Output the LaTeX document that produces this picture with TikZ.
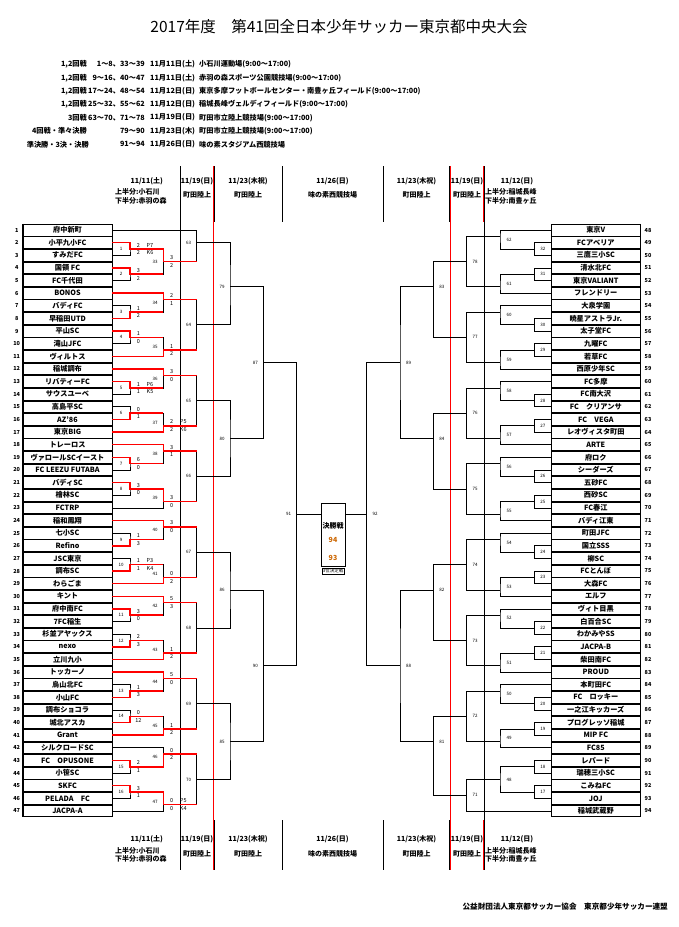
\documentclass[tikz,border=0pt]{standalone}
\usepackage{fontspec}
\setmainfont{Noto Sans CJK JP}
\usetikzlibrary{calc}
\newcommand\yk[1]{230+#1*6.315}
\begin{document}
\begin{tikzpicture}[x=1pt,y=-1pt,
 every node/.style={inner sep=0pt},
 team/.style={draw,line width=0.8pt,minimum width=89pt,minimum height=11.8pt,font=\fontsize{7.2}{8}\selectfont\bfseries},
 rownum/.style={font=\fontsize{5.5}{6}\selectfont\bfseries},
 lab/.style={font=\fontsize{4.5}{5}\selectfont},
 sc/.style={font=\fontsize{5.5}{6}\selectfont},
 br/.style={line width=0.7pt},
 win/.style={draw=red,line width=1.5pt},
 hd/.style={font=\fontsize{7}{8}\selectfont\bfseries},
 sched/.style={font=\fontsize{7.2}{8}\selectfont\bfseries},
 colline/.style={line width=0.8pt},
 redline/.style={draw=red,line width=0.5pt}]
\fill[white] (0,0) rectangle (678,927);
\useasboundingbox (0,0) rectangle (678,927);

% title
\node[font=\fontsize{15.5}{17}\selectfont] (title) at (339,26.5) {2017年度　第41回全日本少年サッカー東京都中央大会};

% schedule
\node[sched,anchor=east] (sa1) at (87,64.5) {1,2回戦};
\node[sched,anchor=east] (sb1) at (145,64.5) {1～8、33～39};
\node[sched,anchor=west] (sc1) at (150,64.5) {11月11日(土)};
\node[sched,anchor=west] (sd1) at (199,64.5) {小石川運動場(9:00～17:00)};
\node[sched,anchor=east] (sa2) at (87,77.8) {1,2回戦};
\node[sched,anchor=east] (sb2) at (145,77.8) {9～16、40～47};
\node[sched,anchor=west] (sc2) at (150,77.8) {11月11日(土)};
\node[sched,anchor=west] (sd2) at (199,77.8) {赤羽の森スポーツ公園競技場(9:00～17:00)};
\node[sched,anchor=east] (sa3) at (87,91.1) {1,2回戦};
\node[sched,anchor=east] (sb3) at (145,91.1) {17～24、48～54};
\node[sched,anchor=west] (sc3) at (150,91.1) {11月12日(日)};
\node[sched,anchor=west] (sd3) at (199,91.1) {東京多摩フットボールセンター・南豊ヶ丘フィールド(9:00～17:00)};
\node[sched,anchor=east] (sa4) at (87,104.4) {1,2回戦};
\node[sched,anchor=east] (sb4) at (145,104.4) {25～32、55～62};
\node[sched,anchor=west] (sc4) at (150,104.4) {11月12日(日)};
\node[sched,anchor=west] (sd4) at (199,104.4) {稲城長峰ヴェルディフィールド(9:00～17:00)};
\node[sched,anchor=east] (sa5) at (87,117.7) {3回戦};
\node[sched,anchor=east] (sb5) at (145,117.7) {63～70、71～78};
\node[sched,anchor=west] (sc5) at (150,117.7) {11月19日(日)};
\node[sched,anchor=west] (sd5) at (199,117.7) {町田市立陸上競技場(9:00～17:00)};
\node[sched,anchor=east] (sa6) at (87,131) {4回戦・準々決勝};
\node[sched,anchor=east] (sb6) at (145,131) {79～90};
\node[sched,anchor=west] (sc6) at (150,131) {11月23日(木)};
\node[sched,anchor=west] (sd6) at (199,131) {町田市立陸上競技場(9:00～17:00)};
\node[sched,anchor=east] (sa7) at (89,144.3) {準決勝・3決・決勝};
\node[sched,anchor=east] (sb7) at (145,144.3) {91～94};
\node[sched,anchor=west] (sc7) at (150,144.3) {11月26日(日)};
\node[sched,anchor=west] (sd7) at (199,144.3) {味の素スタジアム西競技場};

% column lines
\foreach \x in {180,484} \draw[colline] (\x,166) -- (\x,870);
\foreach \x in {213.7,450.3} \draw[redline] (\x,166) -- (\x,870);
\foreach \x in {214.8,282,383,449.2} {\draw[colline] (\x,166) -- (\x,222); \draw[colline] (\x,820) -- (\x,870);}
\draw[redline] (483,166) -- (483,222); \draw[redline] (483,820) -- (483,870);

% headers
\foreach \yy/\s/\yu/\yl/\ym in {181.7/t/192.3/201.3/195, 839/b/850.7/859.3/854} {
 \node[hd] (d1\s) at (146.7,\yy) {11/11(土)};
 \node[hd,anchor=west] (u1\s) at (115,\yu) {上半分:小石川};
 \node[hd,anchor=west] (l1\s) at (115,\yl) {下半分:赤羽の森};
 \node[hd] (d2\s) at (197,\yy) {11/19(日)};
 \node[hd] (v2\s) at (197,\ym) {町田陸上};
 \node[hd] (d3\s) at (248,\yy) {11/23(木祝)};
 \node[hd] (v3\s) at (248,\ym) {町田陸上};
 \node[hd] (d4\s) at (332.5,\yy) {11/26(日)};
 \node[hd] (v4\s) at (332.5,\ym) {味の素西競技場};
 \node[hd] (d5\s) at (416.5,\yy) {11/23(木祝)};
 \node[hd] (v5\s) at (416.5,\ym) {町田陸上};
 \node[hd] (d6\s) at (467,\yy) {11/19(日)};
 \node[hd] (v6\s) at (467,\ym) {町田陸上};
 \node[hd] (d7\s) at (517,\yy) {11/12(日)};
 \node[hd,anchor=west] (u7\s) at (485,\yu) {上半分:稲城長峰};
 \node[hd,anchor=west] (l7\s) at (485,\yl) {下半分:南豊ヶ丘};
}

% teams left
\foreach \i/\n in {1/府中新町,2/小平九小FC,3/すみだFC,4/国領 FC,5/FC千代田,6/BONOS,7/バディFC,8/早稲田UTD,9/平山SC,10/滝山JFC,11/ヴィルトス,12/稲城調布,13/リバティーFC,14/サウスユーベ,15/高島平SC,16/AZ’86,17/東京BIG,18/トレーロス,19/ヴァロールSCイースト,20/FC LEEZU FUTABA,21/バディSC,22/檜林SC,23/FCTRP,24/稲和鳳翔,25/七小SC,26/Refino,27/JSC東京,28/調布SC,29/わらごま,30/キント,31/府中南FC,32/7FC稲生,33/杉並アヤックス,34/nexo,35/立川九小,36/トッカーノ,37/烏山北FC,38/小山FC,39/調布ショコラ,40/城北アスカ,41/Grant,42/シルクロードSC,43/FC　OPUSONE,44/小笹SC,45/SKFC,46/PELADA　FC,47/JACPA-A} {
 \node[team] (t\i) at (67.5,{230+(\i-1)*12.63}) {\n};
 \node[rownum] (n\i) at (16.7,{230+(\i-1)*12.63}) {\i};
}
\draw[line width=1.6pt] (23,223.9) -- (23,817.1);

% teams right
\foreach \i/\n in {48/東京V,49/FCアベリア,50/三鷹三小SC,51/清水北FC,52/東京VALIANT,53/フレンドリー,54/大泉学園,55/暁星アストラJr.,56/太子堂FC,57/九曜FC,58/若草FC,59/西原少年SC,60/FC多摩,61/FC南大沢,62/FC　クリアンサ,63/FC　VEGA,64/レオヴィスタ町田,65/ARTE,66/府ロク,67/シーダーズ,68/五砂FC,69/西砂SC,70/FC春江,71/バディ江東,72/町田JFC,73/国立SSS,74/柳SC,75/FCとんぼ,76/大森FC,77/エルフ,78/ヴィト目黒,79/白百合SC,80/わかみやSS,81/JACPA-B,82/柴田南FC,83/PROUD,84/本町田FC,85/FC　ロッキー,86/一之江キッカーズ,87/プログレッソ稲城,88/MIP FC,89/FC85,90/レパード,91/瑞穂三小SC,92/こみねFC,93/JOJ,94/稲城武蔵野} {
 \node[team] (t\i) at (595.8,{230+(\i-48)*12.63}) {\n};
 \node[rownum] (n\i) at (648,{230+(\i-48)*12.63}) {\i};
}
\draw[line width=1.6pt] (640.3,223.9) -- (640.3,817.1);

% match points left
\foreach \m/\k in {1/3,2/7,3/13,4/17,5/25,6/29,7/37,8/41,9/49,10/53,11/61,12/65,13/73,14/77,15/85,16/89}
 \coordinate (m\m) at (130,{\yk{\k}});
\foreach \m/\k in {33/5,34/11,35/19,36/23,37/31,38/35,39/43,40/47,41/55,42/59,43/67,44/71,45/79,46/83,47/91}
 \coordinate (m\m) at (163.3,{\yk{\k}});
\foreach \m/\k in {63/2,64/15,65/27,66/39,67/51,68/63,69/75,70/87}
 \coordinate (m\m) at (196.7,{\yk{\k}});
\foreach \m/\k in {79/9,80/33,86/57,85/81}
 \coordinate (m\m) at (230,{\yk{\k}});
\foreach \m/\k in {87/21,90/69}
 \coordinate (m\m) at (263.3,{\yk{\k}});
\coordinate (m91) at (296.7,{\yk{45}});
% match points right
\foreach \m/\k in {32/3,31/7,30/15,29/19,28/27,27/31,26/39,25/43,24/51,23/55,22/63,21/67,20/75,19/79,18/85,17/89}
 \coordinate (m\m) at (534.3,{\yk{\k}});
\foreach \m/\k in {62/1,61/9,60/13,59/21,58/25,57/33,56/37,55/45,54/49,53/57,52/61,51/69,50/73,49/81,48/87}
 \coordinate (m\m) at (500,{\yk{\k}});
\foreach \m/\k in {78/5,77/17,76/29,75/41,74/53,73/65,72/77,71/89.5}
 \coordinate (m\m) at (466.7,{\yk{\k}});
\foreach \m/\k in {83/9,84/33,82/57,81/81}
 \coordinate (m\m) at (433.3,{\yk{\k}});
\foreach \m/\k in {89/21,88/69}
 \coordinate (m\m) at (400,{\yk{\k}});
\coordinate (m92) at (366.7,{\yk{45}});

% brackets left
\foreach \m/\a/\b in {1/2/3,2/4/5,3/7/8,4/9/10,5/13/14,6/15/16,7/19/20,8/21/22,9/25/26,10/27/28,11/31/32,12/33/34,13/37/38,14/39/40,15/43/44,16/45/46}
 \draw[br] (t\a.east) -| (m\m) |- (t\b.east);
\foreach \m/\a/\b in {33/m1/m2,34/t6.east/m3,35/m4/t11.east,36/t12.east/m5,37/m6/t17.east,38/t18.east/m7,39/m8/t23.east,40/t24.east/m9,41/m10/t29.east,42/t30.east/m11,43/m12/t35.east,44/t36.east/m13,45/m14/t41.east,46/t42.east/m15,47/m16/t47.east,
 63/t1.east/m33,64/m34/m35,65/m36/m37,66/m38/m39,67/m40/m41,68/m42/m43,69/m44/m45,70/m46/m47,
 79/m63/m64,80/m65/m66,86/m67/m68,85/m69/m70,87/m79/m80,90/m86/m85,91/m87/m90}
 \draw[br] (\a) -| (m\m) |- (\b);
% brackets right
\foreach \m/\a/\b in {32/49/50,31/51/52,30/55/56,29/57/58,28/61/62,27/63/64,26/67/68,25/69/70,24/73/74,23/75/76,22/79/80,21/81/82,20/85/86,19/87/88,18/90/91,17/92/93}
 \draw[br] (t\a.west) -| (m\m) |- (t\b.west);
\foreach \m/\a/\b in {62/t48.west/m32,61/m31/t53.west,60/t54.west/m30,59/m29/t59.west,58/t60.west/m28,57/m27/t65.west,56/t66.west/m26,55/m25/t71.west,54/t72.west/m24,53/m23/t77.west,52/t78.west/m22,51/m21/t83.west,50/t84.west/m20,49/m19/t89.west,48/m18/m17,
 78/m62/m61,77/m60/m59,76/m58/m57,75/m56/m55,74/m54/m53,73/m52/m51,72/m50/m49,71/m48/t94.west,
 83/m78/m77,84/m76/m75,82/m74/m73,81/m72/m71,89/m83/m84,88/m82/m81,92/m89/m88}
 \draw[br] (\a) -| (m\m) |- (\b);

% winners (red)
\foreach \w/\m/\n in {t2.east/1/33,t4.east/2/33,t8.east/3/34,t9.east/4/35,t13.east/5/36,t16.east/6/37,t19.east/7/38,t21.east/8/39,t26.east/9/40,t28.east/10/41,t31.east/11/42,t34.east/12/43,t38.east/13/44,t40.east/14/45,t43.east/15/46,t45.east/16/47,
 m1/33/63,t6.east/34/64,t11.east/35/64,t12.east/36/65,t17.east/37/65,t18.east/38/66,m8/39/66,t24.east/40/67,t29.east/41/67,t30.east/42/68,t35.east/43/68,t36.east/44/69,t41.east/45/69,m15/46/70,m16/47/70}
 \draw[win] (\w) -| (m\m) -- (m\m -| m\n);

% scores
\foreach \m/\a/\b in {1/2/2,2/3/2,3/1/2,4/1/0,5/1/1,6/0/1,7/6/0,8/3/0,9/1/3,10/1/1,11/3/0,12/2/3,13/1/3,14/0/12,15/2/1,16/3/1,
 33/3/2,34/2/1,35/1/2,36/3/0,37/2/2,38/3/1,39/3/0,40/3/0,41/0/2,42/5/3,43/1/2,44/5/0,45/1/2,46/0/2,47/0/0} {
 \node[sc] (sa\m) at ($(m\m)+(8.4,-3.8)$) {\a};
 \node[sc] (sb\m) at ($(m\m)+(8.4,3.8)$) {\b};
}
\foreach \m/\a/\b in {1/7/6,5/6/5,10/3/4,37/5/6,47/5/4} {
 \node[sc] (pa\m) at ($(m\m)+(20,-3.8)$) {P\a};
 \node[sc] (pb\m) at ($(m\m)+(20,3.8)$) {K\b};
}

% match labels left
\foreach \m in {1,...,16} \node[lab] (l\m) at ($(m\m)+(-9,0)$) {\m};
\foreach \m/\k in {33/5,34/11.5,35/18.5,36/23.5,37/30.5,38/35.5,39/42.5,40/47.5,41/54.5,42/59.5,43/66.5,44/71.5,45/78.5,46/83.5,47/90.5}
 \node[lab] (l\m) at (155,{\yk{\k}}) {\m};
\foreach \m in {63,...,70,79,80,86,85,87,90,91} \node[lab] (l\m) at ($(m\m)+(-8,0)$) {\m};
% match labels right
\foreach \m in {17,...,32} \node[lab] (l\m) at ($(m\m)+(8.5,0)$) {\m};
\foreach \m/\k in {62/1.5,61/8.5,60/13.5,59/20.5,58/25.5,57/32.5,56/37.5,55/44.5,54/49.5,53/56.5,52/61.5,51/68.5,50/73.5,49/80.5,48/87}
 \node[lab] (l\m) at (509,{\yk{\k}}) {\m};
\foreach \m in {71,...,78,83,84,82,81,89,88,92} \node[lab] (l\m) at ($(m\m)+(8.5,0)$) {\m};

% final
\coordinate (fl) at (321,{\yk{45}});
\coordinate (fr) at (345,{\yk{45}});
\draw[br] (m91) -- (fl);
\draw[br] (m92) -- (fr);
\draw[br] (321,503) rectangle (345,566);
\node[hd] (fin) at (333,526) {決勝戦};
\node[hd,text=orange!80!black] (f94) at (333,540) {94};
\node[hd,text=orange!80!black] (f93) at (333,558) {93};
\node[draw,line width=0.5pt,font=\fontsize{4.5}{5}\selectfont,inner sep=1pt] (thr) at (333,571) {3位決定戦};

% footer
\node[font=\fontsize{7.6}{8}\selectfont\bfseries,anchor=east] (foot) at (668,907) {公益財団法人東京都サッカー協会　東京都少年サッカー連盟};
\end{tikzpicture}
\end{document}
